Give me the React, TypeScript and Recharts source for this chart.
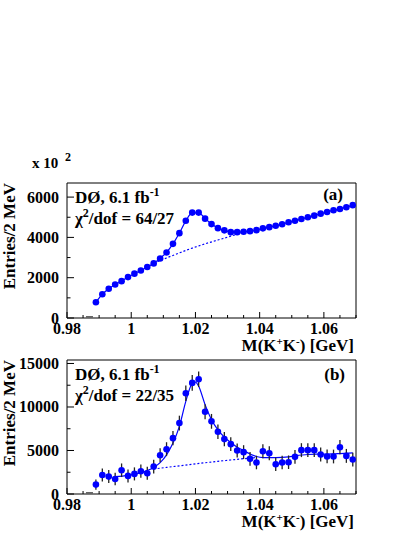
import React from "react";
import {
  ComposedChart,
  Scatter,
  Line,
  XAxis,
  YAxis,
  ErrorBar,
  ReferenceArea
} from "recharts";

// bin centres, M(K+K-) in GeV
const massBins = [
  0.989, 0.991, 0.993, 0.995, 0.997, 0.999, 1.001, 1.003, 1.005, 1.007,
  1.009, 1.011, 1.013, 1.015, 1.017, 1.019, 1.021, 1.023, 1.025, 1.027,
  1.029, 1.031, 1.033, 1.035, 1.037, 1.039, 1.041, 1.043, 1.045, 1.047,
  1.049, 1.051, 1.053, 1.055, 1.057, 1.059, 1.061, 1.063, 1.065, 1.067, 1.069
];

// panel (a)
const entriesA = [
  780, 1180, 1450, 1660, 1830, 2030, 2200, 2360, 2530, 2710,
  2950, 3250, 3680, 4210, 4830, 5230, 5230, 4930, 4660, 4460,
  4350, 4260, 4260, 4280, 4310, 4360, 4450, 4510, 4580, 4650,
  4750, 4830, 4910, 5000, 5080, 5180, 5260, 5350, 5410, 5500, 5600
];
const fitA = [
  780, 1180, 1450, 1660, 1830, 2030, 2200, 2360, 2530, 2720,
  2960, 3260, 3680, 4220, 4820, 5220, 5220, 4940, 4660, 4470,
  4350, 4270, 4260, 4280, 4310, 4360, 4450, 4510, 4580, 4650,
  4750, 4830, 4910, 5000, 5080, 5180, 5260, 5350, 5410, 5500, 5600
];
const bgMassA = [1.007, 1.011, 1.015, 1.019, 1.023, 1.027, 1.031, 1.035];
const bgA = [2720, 2980, 3230, 3470, 3680, 3870, 4060, 4260];

// panel (b)
const entriesB = [
  1080, 2190, 2000, 1730, 2730, 2080, 2310, 2620, 2390, 3150,
  4460, 5150, 6420, 8150, 11580, 12770, 13190, 9460, 8350, 7150,
  6310, 5730, 5000, 4810, 4040, 3620, 4920, 4690, 3420, 3620,
  3650, 4270, 5040, 5040, 5040, 4540, 4310, 4310, 5380, 4380, 3960
];
const errorsB = [
  600, 750, 750, 720, 780, 750, 750, 760, 750, 780,
  800, 800, 820, 850, 880, 900, 900, 860, 850, 830,
  820, 800, 800, 800, 780, 780, 800, 800, 780, 780,
  780, 790, 800, 800, 800, 800, 790, 790, 820, 800, 790
];
const fitMassB = [
  0.995, 0.999, 1.003, 1.007, 1.009, 1.011, 1.013, 1.015, 1.017, 1.019,
  1.020, 1.021, 1.023, 1.025, 1.027, 1.029, 1.031, 1.033, 1.035, 1.037,
  1.039, 1.041, 1.045, 1.049, 1.051, 1.055, 1.059, 1.063, 1.065, 1.069
];
const fitB = [
  2000, 2150, 2460, 3040, 3600, 4500, 5850, 7770, 10650, 12700,
  12850, 12380, 10270, 8540, 7380, 6540, 5920, 5380, 5000, 4600,
  4310, 4190, 4190, 4270, 4380, 4540, 4580, 4610, 4650, 4720
];
const bgMassB = [1.007, 1.011, 1.015, 1.019, 1.023, 1.027, 1.031, 1.035, 1.039];
const bgB = [2870, 3060, 3240, 3420, 3590, 3760, 3910, 4060, 4190];

// the empty bin below threshold
const emptyBin = [{ m: 0.987, v: 0 }];

const xTicks = [
  0.98, 0.985, 0.99, 0.995, 1, 1.005, 1.01, 1.015, 1.02, 1.025,
  1.03, 1.035, 1.04, 1.045, 1.05, 1.055, 1.06, 1.065, 1.07
];
const xMajor = [0.98, 1, 1.02, 1.04, 1.06];
const yTicksA = [0, 1000, 2000, 3000, 4000, 5000, 6000];
const yMajorA = [0, 2000, 4000, 6000];
const yTicksB = [0, 2500, 5000, 7500, 10000, 12500, 15000];
const yMajorB = [0, 5000, 10000, 15000];

const FONT = "'Liberation Serif', 'Times New Roman', serif";
const BLUE = "#0000ff";

const ptsA = massBins.map((m, i) => ({ m, v: entriesA[i] }));
const fitDataA = massBins.map((m, i) => ({ m, v: fitA[i] }));
const bgDataA = bgMassA.map((m, i) => ({ m, v: bgA[i] }));
const ptsB = massBins.map((m, i) => ({ m, v: entriesB[i], e: errorsB[i] }));
const fitDataB = fitMassB.map((m, i) => ({ m, v: fitB[i] }));
const bgDataB = bgMassB.map((m, i) => ({ m, v: bgB[i] }));

const XTick = (props: any) => {
  const { x, y, payload } = props;
  const major = xMajor.includes(payload.value);
  return (
    <g>
      <line x1={x} x2={x} y1={y} y2={y - (major ? 6 : 3)} stroke="#000" />
      {major && (
        <text x={x} y={y + 16} textAnchor="middle" fontFamily={FONT}
          fontWeight="bold" fontSize={16} fill="#000">
          {String(payload.value)}
        </text>
      )}
    </g>
  );
};

const makeYTick = (majors: number[]) => (props: any) => {
  const { x, y, payload } = props;
  const major = majors.includes(payload.value);
  return (
    <g>
      <line x1={x} x2={x + (major ? 7 : 3.5)} y1={y} y2={y} stroke="#000" />
      {major && (
        <text x={x - 8} y={y + 5.5} textAnchor="end" fontFamily={FONT}
          fontWeight="bold" fontSize={16} fill="#000">
          {String(payload.value)}
        </text>
      )}
    </g>
  );
};

const Dot = (props: any) => <circle cx={props.cx} cy={props.cy} r={3.3} fill={BLUE} />;
const Dash = (props: any) => (
  <rect x={props.cx - 3.5} y={props.cy - 2} width={7} height={2} fill="#666" />
);

interface PanelProps {
  top: number;
  height: number;
  marginTop: number;
  xAxisHeight: number;
  yMax: number;
  yTicks: number[];
  yMajor: number[];
  pts: any[];
  fit: any[];
  bg: any[];
  withErrors: boolean;
}

const Panel = (p: PanelProps) => (
  <div style={{ position: "absolute", left: 0, top: p.top }}>
    <ComposedChart
      width={415}
      height={p.height}
      margin={{ top: p.marginTop, right: 59, bottom: 0, left: 0 }}
    >
      <XAxis
        dataKey="m"
        type="number"
        domain={[0.98, 1.07]}
        allowDataOverflow
        ticks={xTicks}
        interval={0}
        height={p.xAxisHeight}
        axisLine={false}
        tickLine={false}
        tickSize={0}
        tickMargin={0}
        tick={XTick}
      />
      <YAxis
        type="number"
        domain={[0, p.yMax]}
        allowDataOverflow
        ticks={p.yTicks}
        interval={0}
        width={67}
        axisLine={false}
        tickLine={false}
        tickSize={0}
        tickMargin={0}
        tick={makeYTick(p.yMajor)}
      />
      <ReferenceArea x1={0.98} x2={1.07} y1={0} y2={p.yMax} fill="none"
        stroke="#000" strokeWidth={1} ifOverflow="visible" />
      <Line data={p.bg} dataKey="v" type="monotone" dot={false} stroke={BLUE}
        strokeWidth={1.2} strokeDasharray="2 2" isAnimationActive={false} />
      <Line data={p.fit} dataKey="v" type="monotone" dot={false} stroke={BLUE}
        strokeWidth={1.2} isAnimationActive={false} />
      <Scatter data={emptyBin} dataKey="v" shape={Dash} isAnimationActive={false} />
      <Scatter data={p.pts} dataKey="v" shape={Dot} fill={BLUE} isAnimationActive={false}>
        {p.withErrors && (
          <ErrorBar dataKey="e" direction="y" width={0} stroke="#222" strokeWidth={1.3} />
        )}
      </Scatter>
    </ComposedChart>
  </div>
);

const txt = { fontFamily: FONT, fontWeight: "bold" as const, fill: "#000" };

const App = () => (
  <div style={{ position: "absolute", left: 0, top: 0, width: 415, height: 537, background: "#fff" }}>
    <Panel top={0} height={345} marginTop={183} xAxisHeight={27} yMax={6700}
      yTicks={yTicksA} yMajor={yMajorA} pts={ptsA} fit={fitDataA} bg={bgDataA} withErrors={false} />
    <Panel top={345} height={192} marginTop={15} xAxisHeight={43} yMax={15400}
      yTicks={yTicksB} yMajor={yMajorB} pts={ptsB} fit={fitDataB} bg={bgDataB} withErrors />
    <svg width={415} height={537} style={{ position: "absolute", left: 0, top: 0, pointerEvents: "none" }}>
      <text x={32} y={168} fontSize={15} {...txt}>x 10</text>
      <text x={65} y={161} fontSize={12} {...txt}>2</text>

      {/* panel (a) */}
      <text x={15} y={183} fontSize={17} textAnchor="end" transform="rotate(-90 15 183)" {...txt}>
        Entries/2 MeV
      </text>
      <text x={75} y={203} fontSize={17} {...txt}>
        DØ, 6.1 fb<tspan dy={-7} fontSize={12}>-1</tspan>
      </text>
      <text x={75} y={224} fontSize={17} {...txt}>
        χ<tspan dy={-7} fontSize={12}>2</tspan><tspan dy={7}>/dof = 64/27</tspan>
      </text>
      <text x={343} y={200} fontSize={17} textAnchor="end" {...txt}>(a)</text>
      <text x={354} y={351} fontSize={17} textAnchor="end" {...txt}>
        M(K<tspan dy={-6} fontSize={11}>+</tspan><tspan dy={6}>K</tspan>
        <tspan dy={-6} fontSize={11}>-</tspan><tspan dy={6}>) [GeV]</tspan>
      </text>

      {/* panel (b) */}
      <text x={15} y={360} fontSize={17} textAnchor="end" transform="rotate(-90 15 360)" {...txt}>
        Entries/2 MeV
      </text>
      <text x={75} y={380} fontSize={17} {...txt}>
        DØ, 6.1 fb<tspan dy={-7} fontSize={12}>-1</tspan>
      </text>
      <text x={75} y={401} fontSize={17} {...txt}>
        χ<tspan dy={-7} fontSize={12}>2</tspan><tspan dy={7}>/dof = 22/35</tspan>
      </text>
      <text x={345} y={380} fontSize={17} textAnchor="end" {...txt}>(b)</text>
      <text x={354} y={527} fontSize={17} textAnchor="end" {...txt}>
        M(K<tspan dy={-6} fontSize={11}>+</tspan><tspan dy={6}>K</tspan>
        <tspan dy={-6} fontSize={11}>-</tspan><tspan dy={6}>) [GeV]</tspan>
      </text>
    </svg>
  </div>
);

export default App;
